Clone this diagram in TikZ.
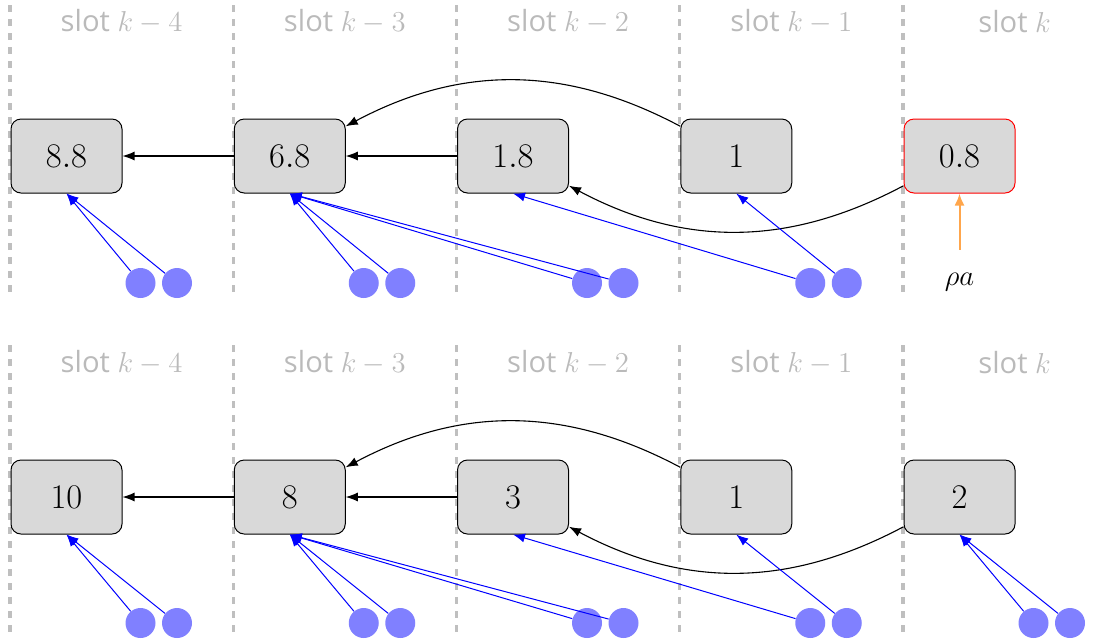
\documentclass[tikz,border=0pt]{standalone}
\usepackage{fontspec}
\setsansfont{Open Sans}
\usetikzlibrary{arrows.meta}
\definecolor{feedorange}{HTML}{FF8000}
\begin{document}
\begin{tikzpicture}[x=0.5pt,y=-0.5pt,
  box/.style={draw=black, fill=black!15, rounded corners=5pt, minimum width=55.5pt,
    minimum height=37pt, inner sep=0pt, line width=0.5pt, font=\fontsize{16.5}{18}\selectfont},
  dot/.style={circle, fill=blue!50, minimum size=15pt, inner sep=0pt},
  slotlabel/.style={text=black!27, font=\sffamily\fontsize{14.6}{16}\selectfont},
  sep/.style={draw=black!25, line width=1.6pt, dash pattern=on 3.5pt off 3.5pt},
  link/.style={-{Latex[length=6pt,width=4.5pt]}, line width=0.55pt},
  vote/.style={-{Latex[length=6pt,width=4.5pt]}, blue, line width=0.5pt},
  rhoarrow/.style={-{Latex[length=6pt,width=5pt]}, draw=feedorange!70, fill=feedorange, line width=1pt},
]
\useasboundingbox (0,0) rectangle (1119,639);

% separators and labels
\foreach \i/\lab in {0/k-4,1/k-3,2/k-2,3/k-1,4/k}{
  \pgfmathsetmacro\xs{10+223.25*\i}
  \pgfmathsetmacro\xc{10+223.25*\i+111.6}
  \draw[sep] (\xs,5) -- (\xs,298);
  \draw[sep] (\xs,345) -- (\xs,639);
  \node[slotlabel] (tl\i) at (\xc,22) {slot $\lab$};
  \node[slotlabel] (bl\i) at (\xc,363) {slot $\lab$};
}

% top row
\foreach \i/\v in {0/8.8,1/6.8,2/1.8,3/1}{
  \pgfmathsetmacro\xb{10+223.25*\i+56.5}
  \node[box] (t\i) at (\xb,156) {$\v$};
}
\node[box, draw=red] (t4) at (10+223.25*4+56.5,156) {$0.8$};
\foreach \i in {0,1,2,3}{
  \pgfmathsetmacro\xa{10+223.25*\i+130.5}
  \pgfmathsetmacro\xb{10+223.25*\i+167}
  \node[dot] (ta\i) at (\xa,283) {};
  \node[dot] (tb\i) at (\xb,283) {};
}
\node[inner sep=0pt, font=\fontsize{15}{17}\selectfont] (rho) at (10+223.25*4+56.5,282) {$\rho a$};

\draw[link] (t1) -- (t0);
\draw[link] (t2) -- (t1);
\draw[link] (t3) to[bend right=28] (t1);
\draw[link] (t4) to[bend left=28] (t2);
\draw[vote] (ta0) -- (t0.south);
\draw[vote] (tb0) -- (t0.south);
\draw[vote] (ta1) -- (t1.south);
\draw[vote] (tb1) -- (t1.south);
\draw[vote] (ta2) -- (t1.south);
\draw[vote] (tb2) -- (t1.south);
\draw[vote] (ta3) -- (t2.south);
\draw[vote] (tb3) -- (t3.south);
\draw[rhoarrow, shorten <=11.5pt] (rho.north) -- (t4.south);

% bottom row
\foreach \i/\v in {0/10,1/8,2/3,3/1,4/2}{
  \pgfmathsetmacro\xb{10+223.25*\i+56.5}
  \node[box] (b\i) at (\xb,497) {$\v$};
}
\foreach \i in {0,1,2,3,4}{
  \pgfmathsetmacro\xa{10+223.25*\i+130.5}
  \pgfmathsetmacro\xb{10+223.25*\i+167}
  \node[dot] (ba\i) at (\xa,623) {};
  \node[dot] (bb\i) at (\xb,623) {};
}
\draw[link] (b1) -- (b0);
\draw[link] (b2) -- (b1);
\draw[link] (b3) to[bend right=28] (b1);
\draw[link] (b4) to[bend left=28] (b2);
\draw[vote] (ba0) -- (b0.south);
\draw[vote] (bb0) -- (b0.south);
\draw[vote] (ba1) -- (b1.south);
\draw[vote] (bb1) -- (b1.south);
\draw[vote] (ba2) -- (b1.south);
\draw[vote] (bb2) -- (b1.south);
\draw[vote] (ba3) -- (b2.south);
\draw[vote] (bb3) -- (b3.south);
\draw[vote] (ba4) -- (b4.south);
\draw[vote] (bb4) -- (b4.south);
\end{tikzpicture}
\end{document}
